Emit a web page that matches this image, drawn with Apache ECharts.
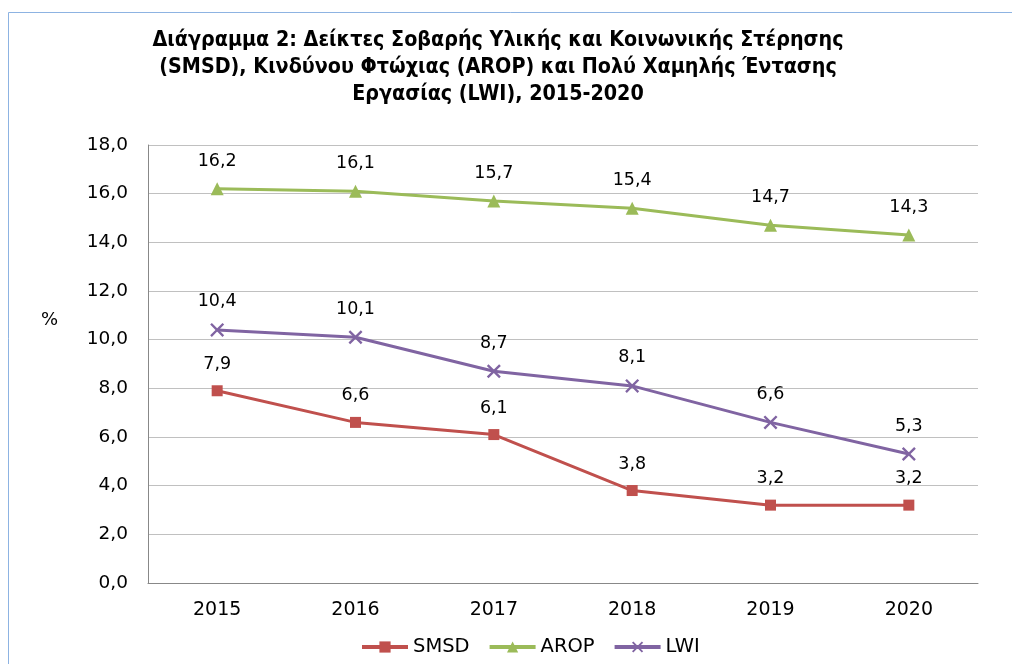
<!DOCTYPE html>
<html><head><meta charset="utf-8">
<script src="https://cdn.jsdelivr.net/npm/echarts@6/dist/echarts.min.js"></script>
<style>html,body{margin:0;padding:0;background:#fff}#c{width:1012px;height:664px}</style>
</head><body><div id="c"></div>
<script>
const categories = ['2015','2016','2017','2018','2019','2020'];
const smsd = [7.9, 6.6, 6.1, 3.8, 3.2, 3.2];
const arop = [16.2, 16.1, 15.7, 15.4, 14.7, 14.3];
const lwi = [10.4, 10.1, 8.7, 8.1, 6.6, 5.3];
const titleText = 'Διάγραμμα 2: Δείκτες Σοβαρής Υλικής και Κοινωνικής Στέρησης\n(SMSD), Κινδύνου Φτώχιας (AROP) και Πολύ Χαμηλής Έντασης\nΕργασίας (LWI), 2015-2020';

const fmt = v => v.toFixed(1).replace('.', ',');
const font = 'DejaVu Sans';
const xPath = 'path://M0,1.2L1.2,0L5,3.8L8.8,0L10,1.2L6.2,5L10,8.8L8.8,10L5,6.2L1.2,10L0,8.8L3.8,5Z';

function mk(name, data, color, symbol, size) {
  return {
    name, type: 'line', data, symbol, symbolSize: size,
    lineStyle: {color, width: 3}, itemStyle: {color},
    label: {show: true, position: 'top', distance: 12, formatter: p => fmt(p.value),
      fontFamily: font, fontSize: 17.5, color: '#000'},
    animation: false
  };
}

const chart = echarts.init(document.getElementById('c'));
chart.setOption({
  backgroundColor: '#fff',
  title: {text: titleText, left: 493, top: 22, textAlign: 'center',
    textStyle: {fontFamily: 'DejaVu Sans Condensed', fontWeight: 'bold', fontSize: 21.3, lineHeight: 27, color: '#000'}},
  grid: {left: 148, right: 34, top: 145, bottom: 81},
  xAxis: {type: 'category', data: categories, boundaryGap: true,
    axisLine: {lineStyle: {color: '#888', width: 1}}, axisTick: {show: false},
    axisLabel: {fontFamily: font, fontSize: 19, color: '#000', margin: 18}},
  yAxis: {type: 'value', min: 0, max: 18, interval: 2,
    axisLine: {show: true, lineStyle: {color: '#888'}}, axisTick: {show: false},
    splitLine: {lineStyle: {color: '#c0c0c0', width: 1}},
    axisLabel: {fontFamily: font, fontSize: 18.5, color: '#000', margin: 20, formatter: v => fmt(v)}},
  legend: {bottom: 2, left: 355, itemWidth: 46, itemHeight: 14, itemGap: 18,
    lineStyle: {width: 4},
    textStyle: {fontFamily: font, fontSize: 19.5, color: '#000'},
    data: ['SMSD', 'AROP', 'LWI']},
  graphic: [
    {type: 'line', shape: {x1: 8.5, y1: 12.5, x2: 1012, y2: 12.5}, style: {stroke: '#8db3e2', lineWidth: 1}},
    {type: 'line', shape: {x1: 8.5, y1: 12.5, x2: 8.5, y2: 664}, style: {stroke: '#8db3e2', lineWidth: 1}},
    {type: 'text', left: 41, top: 311, style: {text: '%', fontFamily: font, fontSize: 18, fill: '#000'}}
  ],
  series: [
    mk('SMSD', smsd, '#c0504d', 'rect', 11),
    mk('AROP', arop, '#9bbb59', 'triangle', 13),
    mk('LWI', lwi, '#8064a2', xPath, 14)
  ]
});
</script></body></html>
